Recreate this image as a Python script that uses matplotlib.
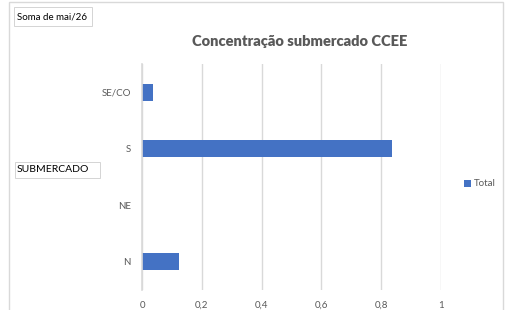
import matplotlib
matplotlib.use("Agg")
import matplotlib.pyplot as plt
from matplotlib.patches import Rectangle

# data
categories = ["N", "NE", "S", "SE/CO"]
totals = [0.124, 0.0, 0.836, 0.037]
x_ticks = [0, 0.2, 0.4, 0.6, 0.8, 1]
x_tick_labels = ["0", "0,2", "0,4", "0,6", "0,8", "1"]

BLUE = "#4472C4"
GREY_TXT = "#595959"
GRID = "#d9d9d9"

plt.rcParams["font.family"] = ["Lato", "DejaVu Sans"]

fig = plt.figure(figsize=(5.12, 3.10), dpi=100)
ax = fig.add_axes([142 / 512, 1 - 290 / 310, (441 - 142) / 512, (290 - 64) / 310])

ax.barh(range(len(categories)), totals, height=0.3, color=BLUE, label="Total", zorder=3)
ax.set_xlim(0, 1)
ax.set_ylim(-0.5, len(categories) - 0.5)
ax.set_yticks(range(len(categories)))
ax.set_yticklabels(categories)
ax.set_xticks(x_ticks)
ax.set_xticklabels(x_tick_labels)
ax.tick_params(length=0, labelsize=7, colors=GREY_TXT)
ax.tick_params(axis="y", pad=8)
ax.tick_params(axis="x", pad=8)
ax.grid(axis="x", color=GRID, linewidth=1, zorder=0)
for side in ["top", "right", "bottom"]:
    ax.spines[side].set_visible(False)
ax.spines["left"].set_color(GRID)
ax.spines["left"].set_linewidth(1.2)
ax.spines["left"].set_zorder(4)

fig.text(300 / 512, 1 - 42 / 310, "Concentração submercado CCEE", ha="center", va="center",
         fontsize=10.5, fontweight="heavy", color=GREY_TXT)

# legend
leg = fig.legend(loc="center left", bbox_to_anchor=(455 / 512, 1 - 184 / 310), frameon=False,
                 fontsize=7, handlelength=0.7, handleheight=0.7, handletextpad=0.3)
for t in leg.get_texts():
    t.set_color(GREY_TXT)

# chart frame
fig.patches.append(Rectangle((9 / 512, -0.05), (503 - 9) / 512, 1 - 2 / 310 + 0.05,
                             transform=fig.transFigure, fill=False, edgecolor=GRID, linewidth=1))

# pivot field buttons
for x0, y0, x1, y1 in [(14, 7, 92, 26), (15, 162, 100, 178)]:
    fig.patches.append(Rectangle((x0 / 512, 1 - y1 / 310), (x1 - x0) / 512, (y1 - y0) / 310,
                                 transform=fig.transFigure, facecolor="white",
                                 edgecolor="#d4d4d4", linewidth=0.7, zorder=5))
fig.text(17 / 512, 1 - 16.5 / 310, "Soma de mai/26", ha="left", va="center", fontsize=7,
         color="black", zorder=6)
fig.text(17 / 512, 1 - 170 / 310, "SUBMERCADO", ha="left", va="center", fontsize=7.5,
         color="black", zorder=6)

fig.savefig("out.png", dpi=100)
